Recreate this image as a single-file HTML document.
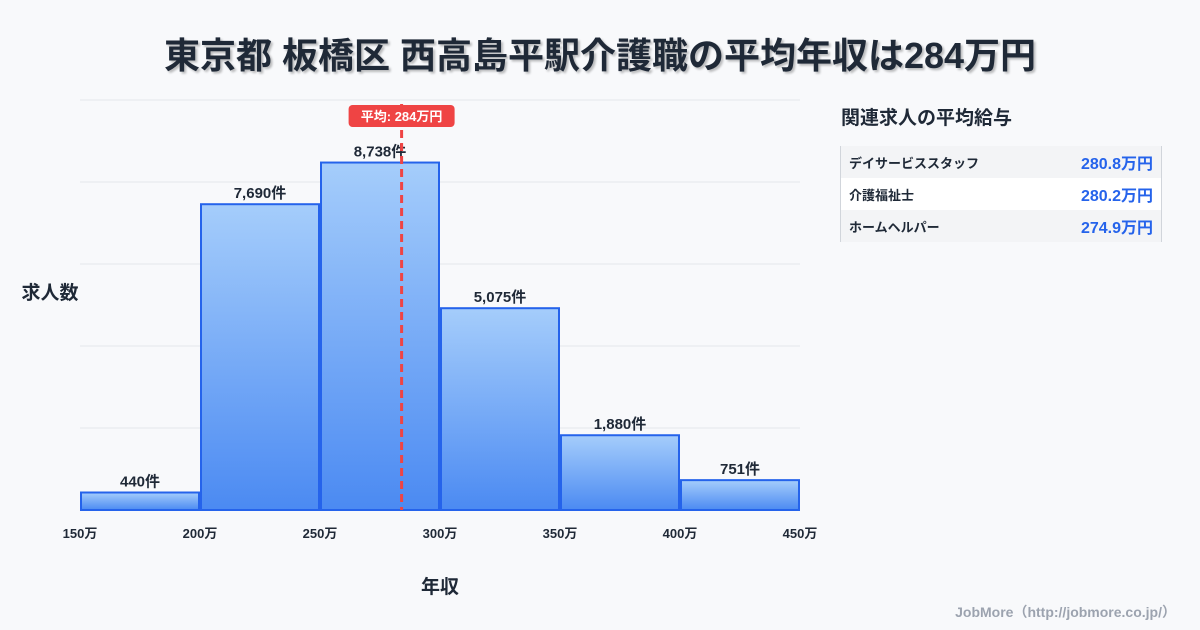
<!DOCTYPE html>
<html><head><meta charset="utf-8">
<style>
body{margin:0;width:1200px;height:630px;background:#f8f9fb;font-family:"Liberation Sans","Noto Sans CJK JP",sans-serif;overflow:hidden;position:relative;color:#1f2937}
#title{position:absolute;left:0;width:1200px;top:27px;text-align:center;font-size:36px;font-weight:bold;color:#1f2937;text-shadow:2px 2px 2px rgba(0,0,0,0.25)}
#side-title{position:absolute;left:841px;top:103px;font-size:19px;font-weight:bold}
#table{position:absolute;left:840px;top:146px;width:320px;border-left:1px solid #d1d5db;border-right:1px solid #d1d5db}
.row{height:32px;display:flex;justify-content:space-between;align-items:center;padding:0 8px 0 8px;font-size:13px;font-weight:bold}
.row .v{color:#2563eb;font-size:16px}
#credit{position:absolute;right:24px;top:602px;font-size:14px;color:#9ca3af;font-weight:bold}
</style></head><body>
<div id="title">東京都 板橋区 西高島平駅介護職の平均年収は284万円</div>
<svg id="chart" width="1200" height="630" style="position:absolute;left:0;top:0">
<defs><linearGradient id="g" x1="0" y1="0" x2="0" y2="1"><stop offset="0" stop-color="#a5cdfb"/><stop offset="1" stop-color="#4b8af2"/></linearGradient></defs>
<g id="grid"></g><g id="bars"></g><g id="labels"></g><g id="ticks"></g><g id="mean"></g>
<text x="50" y="299" font-size="19" font-weight="bold" text-anchor="middle" fill="#1f2937">求人数</text>
<text x="440" y="593" font-size="19" font-weight="bold" text-anchor="middle" fill="#1f2937">年収</text>
</svg>
<div id="side-title">関連求人の平均給与</div>
<div id="table">
<div class="row" style="background:#f3f4f6"><span>デイサービススタッフ</span><span class="v">280.8万円</span></div>
<div class="row" style="background:#fff"><span>介護福祉士</span><span class="v">280.2万円</span></div>
<div class="row" style="background:#f3f4f6"><span>ホームヘルパー</span><span class="v">274.9万円</span></div>
</div>
<div id="credit">JobMore（http://jobmore.co.jp/）</div>
<script>
const bins=[150,200,250,300,350,400];
const counts=[440,7690,8738,5075,1880,751];
const xTicks=[150,200,250,300,350,400,450];
const meanValue=284;
const NS="http://www.w3.org/2000/svg";
const L=80,R=800,T=100,B=510;
const yMax=Math.max(...counts)*1.18;
const x=v=>L+(v-150)/(450-150)*(R-L);
const y=v=>B-v/yMax*(B-T);
function mk(tag,attrs,parent,txt){const e=document.createElementNS(NS,tag);for(const k in attrs)e.setAttribute(k,attrs[k]);if(txt!=null)e.textContent=txt;document.getElementById(parent).appendChild(e);return e;}
for(let i=0;i<=5;i++){const gy=T+i*(B-T)/5;const l=mk('line',{x1:L,x2:R,y1:gy,y2:gy,stroke:'#e5e7eb','stroke-width':1},'grid');

}
bins.forEach((b,i)=>{const x0=x(b)+1,x1=x(b+50)-1,yt=y(counts[i]);
const r=mk('rect',{x:x0,y:yt,width:x1-x0,height:B-yt,fill:'url(#g)',stroke:'#2563eb','stroke-width':2},'bars');


const t=mk('text',{x:(x0+x1)/2,y:yt-6,'text-anchor':'middle','font-size':15,'font-weight':'bold',fill:'#1f2937'},'labels',counts[i].toLocaleString('en-US')+'件');

});
xTicks.forEach(v=>{const t=mk('text',{x:x(v),y:538,'text-anchor':'middle','font-size':13,'font-weight':'bold',fill:'#1f2937'},'ticks',v+'万');

});
const mx=x(meanValue);
const ml=mk('line',{x1:mx,x2:mx,y1:T+4,y2:B,stroke:'#ef4444','stroke-width':3,'stroke-dasharray':'8,5'},'mean');


const mb=mk('rect',{x:mx-53,y:105,width:106,height:22,rx:4,fill:'#ef4444'},'mean');


const mt=mk('text',{x:mx,y:121,'text-anchor':'middle','font-size':13,'font-weight':'bold',fill:'#fff'},'mean','平均: '+meanValue+'万円');


</script>
</body></html>
